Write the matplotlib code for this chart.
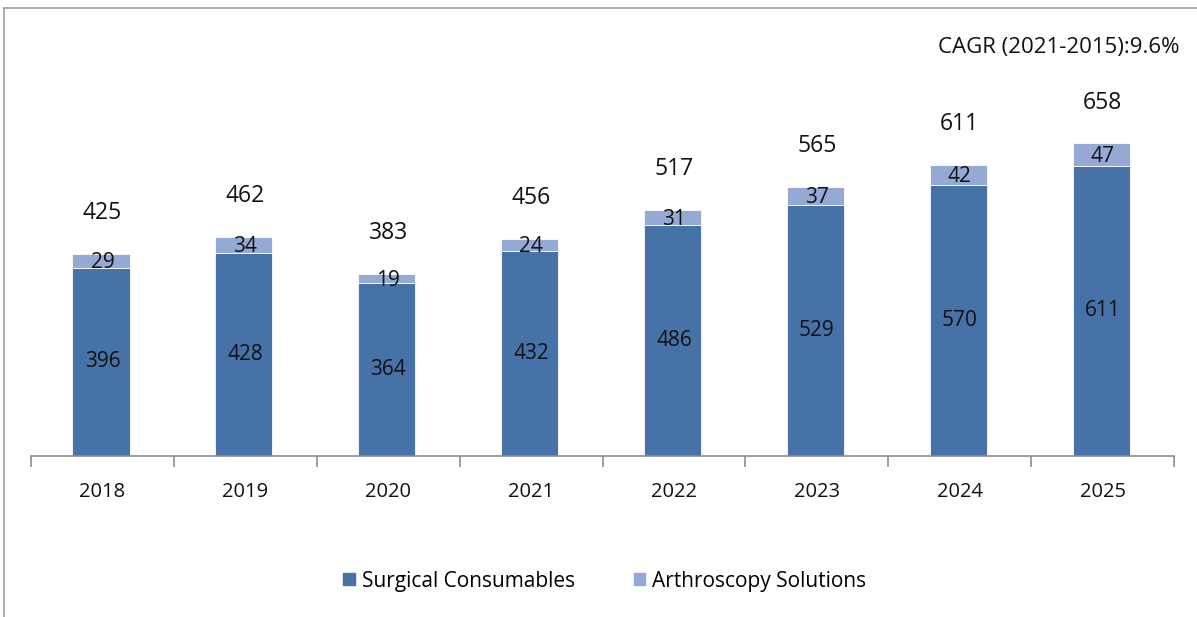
import matplotlib
matplotlib.use("Agg")
import matplotlib.pyplot as plt
import numpy as np
from matplotlib.lines import Line2D

years = ["2018", "2019", "2020", "2021", "2022", "2023", "2024", "2025"]
surgical = [396, 428, 364, 432, 486, 529, 570, 611]
arthroscopy = [29, 34, 19, 24, 31, 37, 42, 47]
totals = [425, 462, 383, 456, 517, 565, 611, 658]
series_names = ["Surgical Consumables", "Arthroscopy Solutions"]
cagr_text = "CAGR (2021-2015):9.6%"

c_dark = "#4672A8"
c_light = "#94A9D4"
font = "Open Sans"
plt.rcParams['font.family'] = [font, 'DejaVu Sans']

fig = plt.figure(figsize=(11.97, 6.17), dpi=100)
W, H = 1197, 617
ax = fig.add_axes([31 / W, 1 - 456 / H, (1174 - 31) / W, (456 - 20) / H])

x = np.arange(len(years))
bw = 0.4
ax.bar(x - 0.01, surgical, bw, color=c_dark, edgecolor="white", linewidth=0.6, label=series_names[0])
ax.bar(x - 0.01, arthroscopy, bw, bottom=surgical, color=c_light, edgecolor="white", linewidth=0.6, label=series_names[1])

for i in range(len(years)):
    ax.text(x[i], surgical[i] / 2, str(surgical[i]), ha="center", va="center", fontsize=15, color="#111111")
    ax.text(x[i], surgical[i] + arthroscopy[i] / 2 - 3, str(arthroscopy[i]), ha="center", va="center", fontsize=15, color="#111111")
    ax.annotate(str(totals[i]), (x[i], surgical[i] + arthroscopy[i]), xytext=(0, 29.5),
                textcoords="offset points", ha="center", va="center", fontsize=16.5, color="#111111")

ax.set_xlim(-0.5, len(years) - 0.5)
ax.set_ylim(0, 918)
for s in ["top", "right", "left"]:
    ax.spines[s].set_visible(False)
ax.spines["bottom"].set_color("#8C8C8C")
ax.spines["bottom"].set_linewidth(1.2)
ax.set_yticks([])
ax.set_xticks(x)
ax.set_xticklabels(years, fontsize=14.5, color="#111111")
ax.tick_params(axis="x", which="major", length=0, pad=19)
ax.set_xticks(np.arange(-0.5, len(years), 1.0), minor=True)
ax.tick_params(axis="x", which="minor", length=8, color="#8C8C8C", width=1.2)

fig.text(1180 / W, 1 - 48 / H, cagr_text, ha="right", va="center", fontsize=16, color="#111111")

handles = [plt.Rectangle((0, 0), 1, 1, color=c_dark), plt.Rectangle((0, 0), 1, 1, color=c_light)]
fig.legend(handles, series_names, loc="center", bbox_to_anchor=(605 / W, 1 - 581 / H), ncol=2,
           frameon=False, fontsize=15, handlelength=0.55, handleheight=0.55, handletextpad=0.35,
           columnspacing=2.8)

# partial figure border (left and top)
fig.add_artist(Line2D([4 / W, 4 / W], [0, 1 - 8 / H], transform=fig.transFigure, color="#A0A0A0", linewidth=1.2))
fig.add_artist(Line2D([4 / W, 1], [1 - 8 / H, 1 - 8 / H], transform=fig.transFigure, color="#A0A0A0", linewidth=1.2))

fig.savefig("out.png", dpi=100)
